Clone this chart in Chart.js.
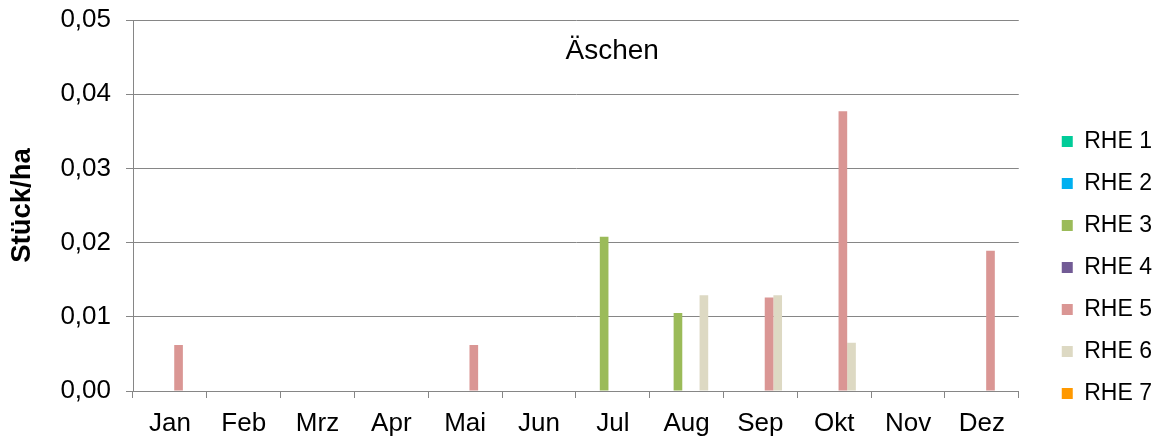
<!DOCTYPE html>
<html>
<head>
<meta charset="utf-8">
<script src="https://cdn.jsdelivr.net/npm/chart.js@4/dist/chart.umd.min.js"></script>
<style>
  body { margin: 0; background: #fff; }
</style>
</head>
<body>
<canvas id="aeschenChart" width="1162" height="443"></canvas>
<script>
const months = ['Jan', 'Feb', 'Mrz', 'Apr', 'Mai', 'Jun', 'Jul', 'Aug', 'Sep', 'Okt', 'Nov', 'Dez'];
const seriesNames = ['RHE 1', 'RHE 2', 'RHE 3', 'RHE 4', 'RHE 5', 'RHE 6', 'RHE 7'];
const seriesColors = ['#00cc99', '#00b0f0', '#9bbb59', '#725b95', '#da9694', '#ddd9c3', '#ff9900'];

const rhe1 = [0, 0, 0, 0, 0, 0, 0, 0, 0, 0, 0, 0];
const rhe2 = [0, 0, 0, 0, 0, 0, 0, 0, 0, 0, 0, 0];
const rhe3 = [0, 0, 0, 0, 0, 0, 0.0208, 0.0105, 0, 0, 0, 0];
const rhe4 = [0, 0, 0, 0, 0, 0, 0, 0, 0, 0, 0, 0];
const rhe5 = [0.0062, 0, 0, 0, 0.0062, 0, 0, 0, 0.0126, 0.0377, 0, 0.0189];
const rhe6 = [0, 0, 0, 0, 0, 0, 0, 0.0129, 0.0129, 0.0065, 0, 0];
const rhe7 = [0, 0, 0, 0, 0, 0, 0, 0, 0, 0, 0, 0];

const yTicks = [0, 0.01, 0.02, 0.03, 0.04, 0.05];
const chartTitle = 'Äschen';
const yTitle = 'Stück/ha';

Chart.defaults.font.family = '"Liberation Sans", Arial, sans-serif';
Chart.defaults.color = '#000';

const gridGray = '#868686';
const allSeries = [rhe1, rhe2, rhe3, rhe4, rhe5, rhe6, rhe7];

const datasets = allSeries.map(function(values, i) {
    return {
        label: seriesNames[i],
        data: values,
        backgroundColor: seriesColors[i],
        borderWidth: 0,
        categoryPercentage: 0.82,
        barPercentage: 1.0
    };
});

// title sits inside the plot area, like in the original
const innerTitle = {
    id: 'innerTitle',
    afterDraw: function(chart) {
        const area = chart.chartArea;
        const ctx = chart.ctx;
        ctx.save();
        ctx.font = '28px "Liberation Sans", Arial, sans-serif';
        ctx.fillStyle = '#000';
        ctx.textAlign = 'center';
        ctx.textBaseline = 'alphabetic';
        ctx.fillText(chartTitle, area.left + area.width * 0.541, area.top + 39);
        ctx.restore();
    }
};

const config = {
    type: 'bar',
    data: {
        labels: months,
        datasets: datasets
    },
    options: {
        responsive: false,
        animation: false,
        layout: {
            padding: { top: 20, right: 0, left: 0, bottom: 0 }
        },
        scales: {
            x: {
                grid: {
                    offset: true,
                    drawOnChartArea: false,
                    drawTicks: true,
                    tickLength: 7,
                    color: gridGray
                },
                border: { color: gridGray },
                ticks: {
                    font: { size: 26 },
                    padding: 10
                },
                afterFit: function(scale) { scale.height = 52; }
            },
            y: {
                min: 0,
                max: 0.05,
                afterBuildTicks: function(scale) {
                    scale.ticks = yTicks.map(function(v) { return { value: v }; });
                },
                grid: {
                    color: gridGray,
                    tickLength: 7
                },
                border: { color: gridGray },
                ticks: {
                    font: { size: 26 },
                    padding: 15,
                    callback: function(value) {
                        return value.toFixed(2).replace('.', ',');
                    }
                },
                title: {
                    display: true,
                    text: yTitle,
                    font: { size: 27.5, weight: 'bold' },
                    padding: { top: 6, bottom: 0 }
                },
                afterFit: function(scale) {
                    scale.width = 133;
                    scale.paddingTop = 0;
                    scale.paddingBottom = 0;
                }
            },
            pad: {
                type: 'linear',
                position: 'right',
                display: true,
                grid: { display: false },
                border: { display: false },
                ticks: { display: false },
                afterFit: function(scale) { scale.width = 24; }
            }
        },
        plugins: {
            legend: {
                position: 'right',
                align: 'start',
                title: {
                    display: true,
                    text: ' ',
                    font: { size: 10, lineHeight: 1 },
                    padding: { top: 81, bottom: 0 }
                },
                labels: {
                    boxWidth: 11,
                    boxHeight: 11,
                    padding: 19,
                    font: { size: 23 }
                }
            },
            tooltip: { enabled: false }
        }
    },
    plugins: [innerTitle]
};

const ctx = document.getElementById('aeschenChart').getContext('2d');
new Chart(ctx, config);
</script>
</body>
</html>
